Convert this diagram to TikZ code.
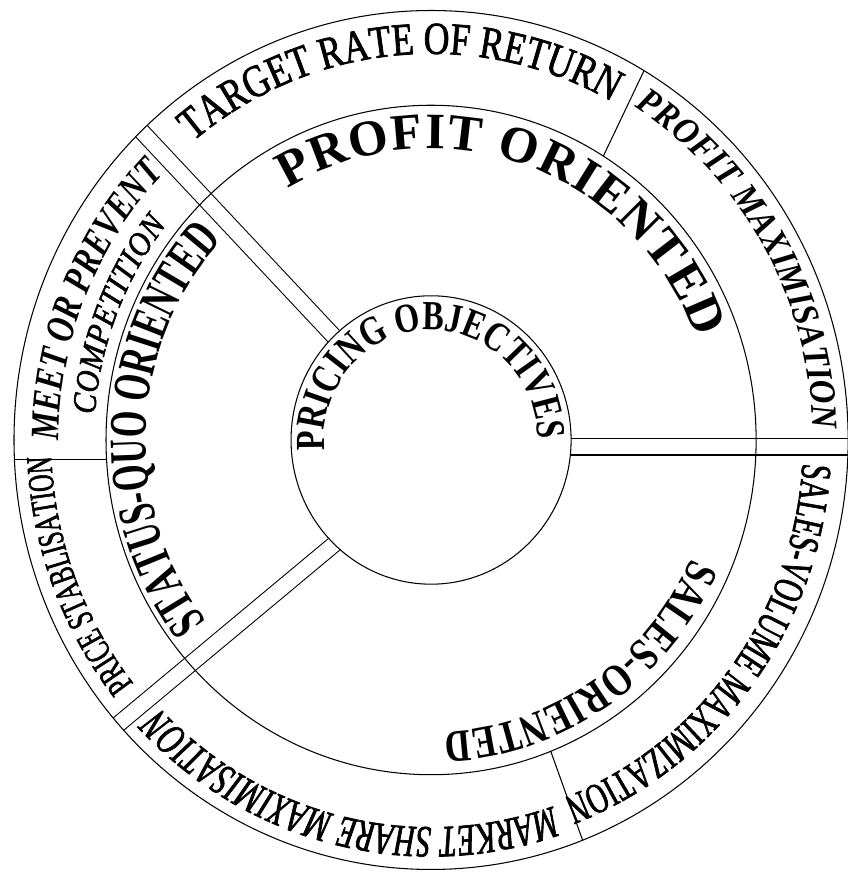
\documentclass[tikz,border=0pt]{standalone}
\usepackage{fontspec}
\setmainfont{Liberation Serif}
\newfontfamily\narrowfont[FakeStretch=0.65]{Liberation Serif}
\newfontfamily\narrowheavy[FakeStretch=0.65, FakeBold=1.5]{Liberation Serif}
\newfontfamily\semifont[FakeStretch=0.78]{Liberation Serif}
\newfontfamily\semiheavy[FakeStretch=0.78, FakeBold=1.5]{Liberation Serif}
\newfontfamily\widefont[FakeStretch=0.9]{Liberation Serif}
\newfontfamily\wideheavy[FakeStretch=0.9, FakeBold=1.5]{Liberation Serif}
\usepackage{tikz}
\usetikzlibrary{decorations.text}

\tikzset{
  ring/.style={line width=0.6pt},
  divider/.style={line width=0.6pt, double=white, double distance=0.3cm},
  arclabel/.style={decorate, decoration={text along path, text align={fit to path}, text={#1}}}
}

\begin{document}
\begin{tikzpicture}[x=0.02cm, y=0.0206cm]
    \useasboundingbox (-431,-421.4) rectangle (416,427.2);

    % Double dividers between the three groups
    \begin{scope}
        \clip (0,0) circle[radius=417];
        \draw[divider] (134:90) -- (134:440);
        \draw[divider] (90,-6.8) -- (440,-6.8);
        \draw[divider] (-54.6,-67) -- (-339.2,-297.4);
    \end{scope}

    % Rings
    \draw[ring, fill=white] (0,0) circle[radius=140];
    \draw[ring] (0,0) circle[radius=325];
    \draw[ring] (0,0) circle[radius=417];

    % Single dividers in the outer ring
    \draw[ring] (58:325) -- (59.3:417);
    \draw[ring] (-324.4,-19.4) -- (-416.5,-19.4);
    \draw[ring] (-68.4:325) -- (-68.7:417);

    % Centre
    \path[arclabel={|\semifont\bfseries\fontsize{23.5}{23.5}\selectfont|PRICING OBJECTIVES}]
        (185.6:107) arc[start angle=185.6, end angle=0.3, radius=107];

    % Middle ring
    \path[arclabel={|\bfseries\fontsize{29}{29}\selectfont|PROFIT ORIENTED}]
        (120.5:283) arc[start angle=120.5, end angle=20.3, radius=283];
    \path[arclabel={|\semifont\bfseries\fontsize{26}{26}\selectfont|SALES-ORIENTED}]
        (-23.8:284) arc[start angle=-23.8, end angle=-87.4, radius=284];
    \path[arclabel={|\narrowfont\bfseries\fontsize{30}{30}\selectfont|STATUS-QUO ORIENTED}]
        (218.2:285) arc[start angle=218.2, end angle=137.4, radius=285];

    % Outer ring
    \path[arclabel={|\semiheavy\fontsize{26}{26}\selectfont|TARGET RATE OF RETURN}]
        (129.4:375) arc[start angle=129.4, end angle=61.8, radius=375];
    \path[arclabel={|\widefont\bfseries\itshape\fontsize{21}{21}\selectfont|PROFIT MAXIMISATION}]
        (57.8:382) arc[start angle=57.8, end angle=1.5, radius=382];
    \path[arclabel={|\narrowheavy\fontsize{24.5}{24.5}\selectfont|SALES-VOLUME MAXIMIZATION}]
        (-3.5:372) arc[start angle=-3.5, end angle=-67.8, radius=372];
    \path[arclabel={|\narrowheavy\itshape\fontsize{25.5}{25.5}\selectfont|MARKET SHARE MAXIMISATION}]
        (-71.15:376) arc[start angle=-71.15, end angle=-136.25, radius=376];
    \path[arclabel={|\narrowheavy\fontsize{21}{21}\selectfont|PRICE STABLISATION}]
        (218.5:380) arc[start angle=218.5, end angle=183, radius=380];
    \path[arclabel={|\semifont\bfseries\itshape\fontsize{23}{23}\selectfont|MEET OR PREVENT}]
        (180.1:372) arc[start angle=180.1, end angle=136.5, radius=372];
    \path[arclabel={|\wideheavy\itshape\fontsize{19}{19}\selectfont|COMPETITION}]
        (175.8:337) arc[start angle=175.8, end angle=141.6, radius=337];
\end{tikzpicture}
\end{document}
